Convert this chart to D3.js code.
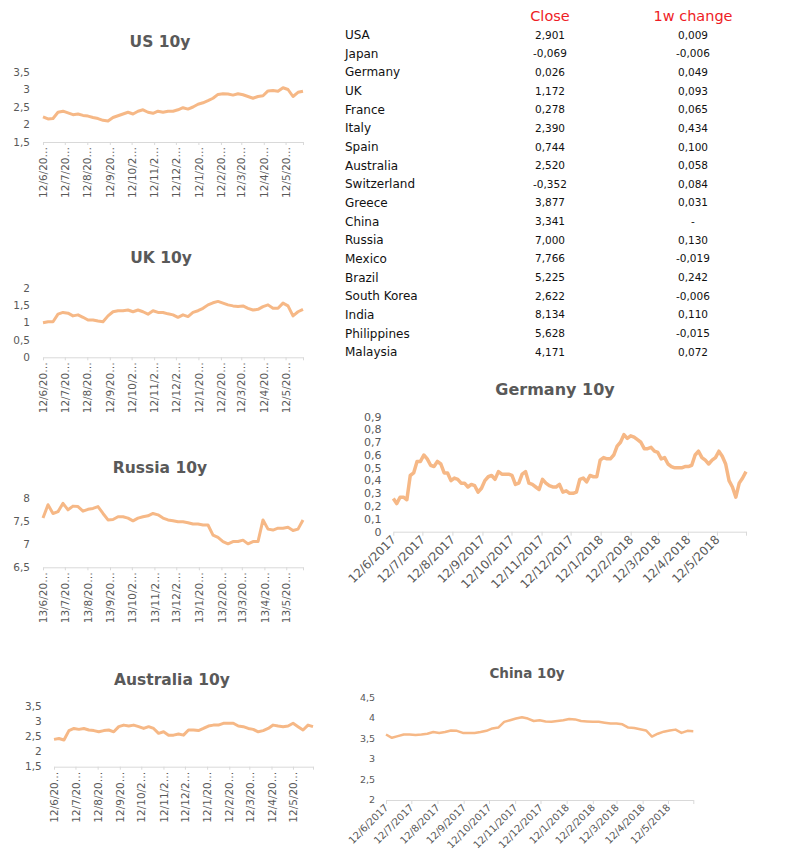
<!DOCTYPE html>
<meta charset="utf-8">
<head>
<title>10y yields</title>
<script src="https://cdn.jsdelivr.net/npm/d3@7"></script>
<style>
  body { margin: 0; background: #fff; }
  .title { font-family: "DejaVu Sans", Verdana, sans-serif; font-weight: bold; fill: #595959; text-anchor: middle; }
  .ylab { font-family: "DejaVu Sans", Verdana, sans-serif; fill: #595959; text-anchor: end; }
  .tbl { font-family: "DejaVu Sans", Verdana, sans-serif; }
</style>
</head>
<body>
<div id="chart"></div>
<script>
// table data
var countries = ["USA", "Japan", "Germany", "UK", "France", "Italy", "Spain", "Australia", "Switzerland",
  "Greece", "China", "Russia", "Mexico", "Brazil", "South Korea", "India", "Philippines", "Malaysia"];
var closeValues = [2.901, -0.069, 0.026, 1.172, 0.278, 2.390, 0.744, 2.520, -0.352,
  3.877, 3.341, 7.000, 7.766, 5.225, 2.622, 8.134, 5.628, 4.171];
var changeValues = [0.009, -0.006, 0.049, 0.093, 0.065, 0.434, 0.100, 0.058, 0.084,
  0.031, null, 0.130, -0.019, 0.242, -0.006, 0.110, -0.015, 0.072];

// x tick labels (monthly)
var monthLabels = ["12/6/2017", "12/7/2017", "12/8/2017", "12/9/2017", "12/10/2017", "12/11/2017",
  "12/12/2017", "12/1/2018", "12/2/2018", "12/3/2018", "12/4/2018", "12/5/2018"];
var russiaLabels = ["13/6/2017", "13/7/2017", "13/8/2017", "13/9/2017", "13/10/2017", "13/11/2017",
  "13/12/2017", "13/1/2018", "13/2/2018", "13/3/2018", "13/4/2018", "13/5/2018"];

// series (roughly weekly)
var usValues = [2.22,2.16,2.17,2.35,2.38,2.33,2.28,2.30,2.26,2.24,2.20,2.17,2.12,2.10,2.20,2.25,2.30,2.35,2.30,2.38,
  2.42,2.35,2.32,2.38,2.35,2.38,2.38,2.42,2.48,2.44,2.50,2.58,2.62,2.68,2.75,2.86,2.88,2.87,2.84,2.88,
  2.85,2.80,2.75,2.80,2.82,2.96,2.97,2.95,3.05,3.00,2.80,2.92,2.95];
var ukValues = [1.00,1.03,1.03,1.25,1.30,1.28,1.20,1.23,1.16,1.08,1.08,1.05,1.03,1.20,1.32,1.35,1.35,1.37,1.32,1.37,
  1.32,1.25,1.35,1.30,1.30,1.26,1.23,1.16,1.23,1.18,1.30,1.35,1.42,1.52,1.58,1.62,1.57,1.52,1.49,1.47,
  1.49,1.42,1.37,1.39,1.47,1.52,1.42,1.42,1.57,1.49,1.20,1.32,1.39];
var russiaValues = [7.57,7.86,7.67,7.71,7.89,7.75,7.83,7.82,7.72,7.76,7.78,7.82,7.67,7.53,7.54,7.60,7.60,7.57,7.51,7.57,
  7.60,7.62,7.67,7.64,7.57,7.53,7.51,7.49,7.49,7.47,7.44,7.44,7.42,7.42,7.20,7.15,7.06,7.01,7.06,7.06,
  7.09,7.01,7.06,7.06,7.53,7.33,7.31,7.35,7.35,7.37,7.30,7.33,7.53];
var australiaValues = [2.40,2.43,2.38,2.69,2.76,2.73,2.76,2.71,2.69,2.65,2.69,2.71,2.65,2.82,2.87,2.84,2.87,2.82,2.76,2.82,
  2.76,2.60,2.65,2.54,2.54,2.58,2.54,2.71,2.71,2.69,2.76,2.84,2.87,2.87,2.93,2.93,2.93,2.84,2.82,2.76,
  2.73,2.65,2.69,2.76,2.87,2.84,2.82,2.84,2.93,2.82,2.71,2.87,2.82];
// twice a week
var germanyValues = [0.26,0.22,0.27,0.27,0.25,0.44,0.46,0.55,0.55,0.60,0.57,0.52,0.51,0.55,0.53,0.46,0.46,0.40,0.42,0.41,
  0.38,0.38,0.35,0.37,0.36,0.31,0.34,0.40,0.43,0.44,0.41,0.47,0.45,0.45,0.45,0.44,0.37,0.38,0.45,0.47,
  0.38,0.37,0.35,0.33,0.41,0.38,0.36,0.35,0.35,0.37,0.31,0.32,0.30,0.30,0.31,0.41,0.42,0.39,0.44,0.43,
  0.43,0.56,0.58,0.57,0.57,0.60,0.67,0.70,0.76,0.73,0.75,0.74,0.72,0.70,0.65,0.65,0.66,0.63,0.62,0.57,
  0.58,0.53,0.51,0.50,0.50,0.50,0.51,0.51,0.52,0.60,0.63,0.58,0.56,0.53,0.56,0.58,0.63,0.59,0.53,0.40,
  0.35,0.27,0.38,0.42,0.47];
var chinaValues = [3.60,3.52,3.56,3.60,3.60,3.59,3.60,3.62,3.66,3.64,3.66,3.70,3.69,3.64,3.64,3.64,3.66,3.69,3.75,3.77,
  3.91,3.95,3.99,4.02,3.99,3.93,3.95,3.92,3.91,3.93,3.95,3.98,3.97,3.93,3.92,3.91,3.91,3.89,3.87,3.87,
  3.85,3.77,3.76,3.73,3.70,3.55,3.62,3.67,3.70,3.72,3.64,3.69,3.68];

var locale = d3.formatLocale({decimal: ",", thousands: ".", grouping: [3], currency: ["", ""], minus: "-"});
var fmt3 = locale.format(".3f");
var fmtTick = locale.format("~f");
var parseDate = d3.timeParse("%d/%m/%Y");

var svg = d3.select("#chart").append("svg")
    .attr("width", 801)
    .attr("height", 867);

// ---- table
var tbl = svg.append("g").attr("class", "tbl");
tbl.append("text").attr("x", 550).attr("y", 21).attr("text-anchor", "middle")
    .style("font-size", "14.5px").attr("fill", "#ee1c25").text("Close");
tbl.append("text").attr("x", 693).attr("y", 21).attr("text-anchor", "middle")
    .style("font-size", "14.5px").attr("fill", "#ee1c25").text("1w change");

var rowY = d3.scaleLinear().domain([0, countries.length - 1]).range([35, 352]);
countries.forEach(function(c, i) {
  tbl.append("text").attr("x", 345).attr("y", rowY(i)).attr("dy", "0.35em")
      .style("font-size", "12px").attr("fill", "#111").text(c);
  tbl.append("text").attr("x", 550).attr("y", rowY(i)).attr("dy", "0.35em").attr("text-anchor", "middle")
      .style("font-size", "10.5px").attr("fill", "#111").text(fmt3(closeValues[i]));
  tbl.append("text").attr("x", 693).attr("y", rowY(i)).attr("dy", "0.35em").attr("text-anchor", "middle")
      .style("font-size", "10.5px").attr("fill", "#111")
      .text(changeValues[i] == null ? "-" : fmt3(changeValues[i]));
});

// ---- charts
var charts = [
  {title: "US 10y", values: usValues, labels: monthLabels, end: "5/6/2018", tx: 160, ty: 47, ts: 15.5,
   x0: 43, x1: 303, y0: 142, y1: 72, dom: [1.5, 3.5], step: 0.5, lr: 30, fs: 10.5, xfs: 10.5, vert: true, sw: 3},
  {title: "UK 10y", values: ukValues, labels: monthLabels, end: "5/6/2018", tx: 161, ty: 263, ts: 15.5,
   x0: 43, x1: 303, y0: 357.3, y1: 288.3, dom: [0, 2], step: 0.5, lr: 30, fs: 10.5, xfs: 10.5, vert: true, sw: 3},
  {title: "Russia 10y", values: russiaValues, labels: russiaLabels, end: "5/6/2018", tx: 160, ty: 473, ts: 15.5,
   x0: 43, x1: 303, y0: 567.3, y1: 498.3, dom: [6.5, 8], step: 0.5, lr: 30, fs: 10.5, xfs: 10.5, vert: true, sw: 3},
  {title: "Australia 10y", values: australiaValues, labels: monthLabels, end: "9/6/2018", tx: 172, ty: 685, ts: 15.5,
   x0: 54, x1: 313, y0: 766.7, y1: 706, dom: [1.5, 3.5], step: 0.5, lr: 41.7, fs: 10.5, xfs: 10.5, vert: true, sw: 3},
  {title: "Germany 10y", values: germanyValues, labels: monthLabels, end: "11/6/2018", tx: 555, ty: 395, ts: 16,
   x0: 393.3, x1: 746, y0: 531.7, y1: 416.7, dom: [0, 0.9], step: 0.1, lr: 381.5, fs: 11, xfs: 12, vert: false, sw: 3.5},
  {title: "China 10y", values: chinaValues, labels: monthLabels, end: "11/6/2018", tx: 527, ty: 678, ts: 13.5,
   x0: 386, x1: 693.3, y0: 800, y1: 697.7, dom: [2, 4.5], step: 0.5, lr: 375, fs: 9.5, xfs: 10, vert: false, sw: 2.5}
];

charts.forEach(drawChart);

function drawChart(c) {
  var tickDates = c.labels.map(parseDate);
  var start = tickDates[0], end = parseDate(c.end);
  var x = d3.scaleTime().domain([start, end]).range([c.x0, c.x1]);
  var y = d3.scaleLinear().domain(c.dom).range([c.y0, c.y1]);
  var g = svg.append("g");

  g.append("text").attr("class", "title").attr("x", c.tx).attr("y", c.ty)
      .style("font-size", c.ts + "px").text(c.title);

  // y tick labels (no axis line in the original)
  var yTicks = d3.range(c.dom[0], c.dom[1] + c.step / 2, c.step);
  g.selectAll(".ylab").data(yTicks).enter().append("text")
      .attr("class", "ylab")
      .attr("x", c.lr).attr("y", function(d) { return y(d); }).attr("dy", "0.35em")
      .style("font-size", c.fs + "px")
      .text(function(d) { return fmtTick(+d.toFixed(2)); });

  // x axis
  var ax = g.append("g").attr("transform", "translate(0," + c.y0 + ")")
      .call(d3.axisBottom(x).tickValues(tickDates.concat([end])).tickSize(c.vert ? 3 : 4).tickSizeOuter(0)
        .tickFormat(function(d, i) {
          if (i >= c.labels.length) return "";
          return c.vert ? c.labels[i].slice(0, 7) + "\u2026" : c.labels[i];
        }));
  ax.select(".domain").attr("stroke", "#d9d9d9");
  ax.selectAll(".tick line").attr("stroke", "#d9d9d9");
  var tx = ax.selectAll(".tick text")
      .attr("fill", "#595959")
      .attr("font-family", "DejaVu Sans, Verdana, sans-serif")
      .attr("font-size", c.xfs)
      .attr("text-anchor", "end");
  if (c.vert) {
    tx.attr("transform", "rotate(-90)").attr("x", -5).attr("y", 0).attr("dy", "0.35em");
  } else {
    tx.attr("transform", "rotate(-45)").attr("x", -4).attr("y", 4).attr("dy", "0.35em");
  }

  // line
  var n = c.values.length;
  var t = d3.scaleLinear().domain([0, n - 1]).range([+start, +end]);
  var line = d3.line()
      .x(function(d, i) { return x(new Date(t(i))); })
      .y(function(d) { return y(d); });
  g.append("path").datum(c.values)
      .attr("fill", "none")
      .attr("stroke", "#f6b886")
      .attr("stroke-width", c.sw)
      .attr("stroke-linejoin", "round")
      .attr("d", line);
}
</script>
</body>
</html>
